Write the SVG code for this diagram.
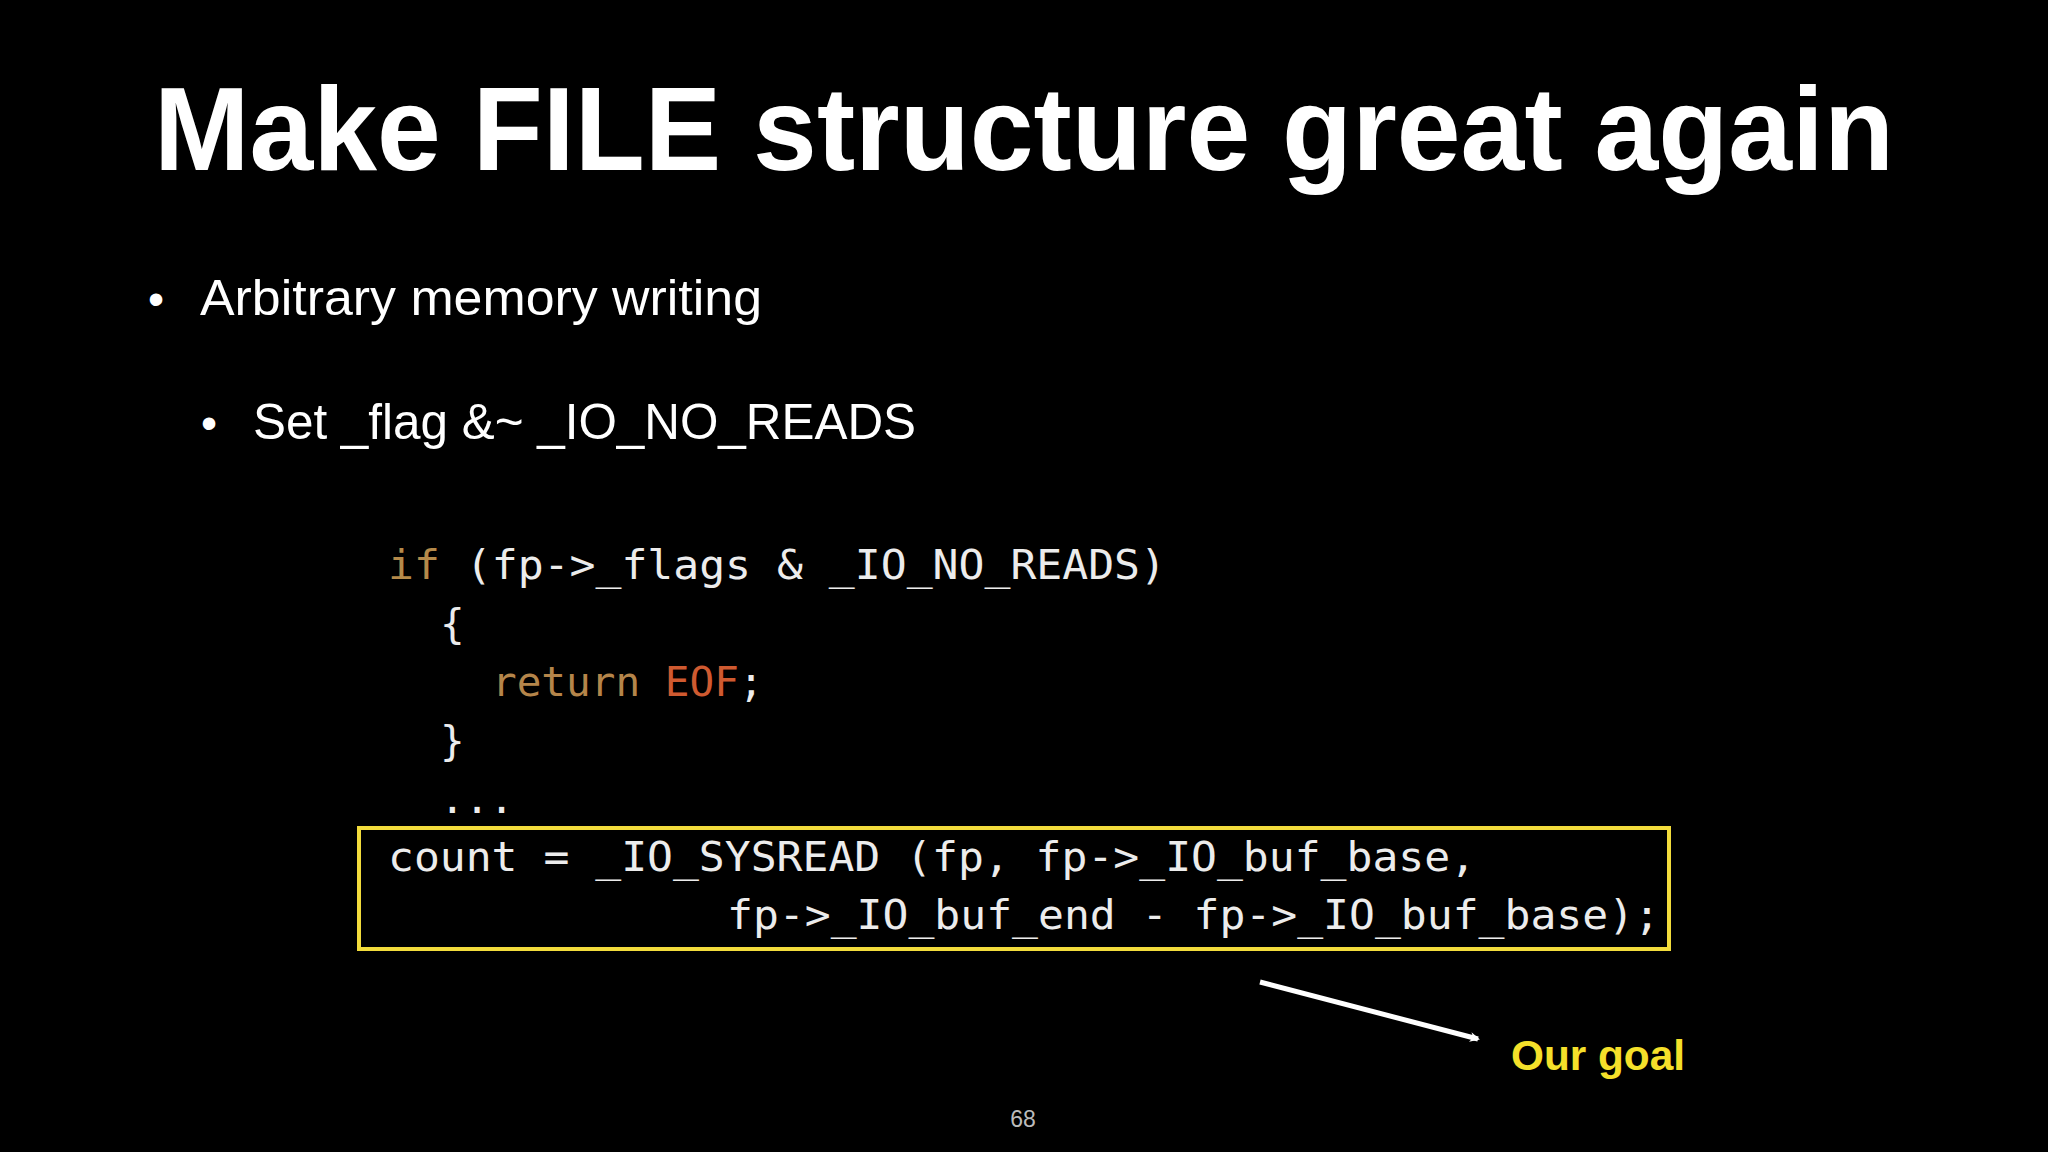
<svg xmlns="http://www.w3.org/2000/svg" width="2048" height="1152" viewBox="0 0 2048 1152">
<defs>
<style>
.t{font-family:"Liberation Sans",Arial,sans-serif;fill:#fff}
.c{font-family:"DejaVu Sans Mono","Liberation Mono",monospace;font-size:41px;fill:#ececec}
</style>
<marker id="ah" markerWidth="10" markerHeight="10" refX="8" refY="5" orient="auto" markerUnits="userSpaceOnUse" viewBox="0 0 10 10"><path d="M0,0 L10,5 L0,10 L3,5 Z" fill="#fff"/></marker>
</defs>
<rect width="2048" height="1152" fill="#000"/>
<g id="title"><text class="t" x="154" y="170" font-size="118" font-weight="bold" textLength="1740" lengthAdjust="spacingAndGlyphs">Make FILE structure great again</text></g>
<g id="bullets">
<text class="t" x="148" y="315" font-size="46">•</text>
<text class="t" x="200" y="315" font-size="50" textLength="562" lengthAdjust="spacingAndGlyphs">Arbitrary memory writing</text>
<text class="t" x="201" y="439" font-size="46">•</text>
<text class="t" x="253" y="439" font-size="50" textLength="663" lengthAdjust="spacingAndGlyphs">Set _flag &amp;~ _IO_NO_READS</text>
</g>
<g id="code">
<text class="c" x="388" y="579" textLength="778" lengthAdjust="spacingAndGlyphs"><tspan fill="#b58a4a">if</tspan> (fp-&gt;_flags &amp; _IO_NO_READS)</text>
<text class="c" x="440" y="638">{</text>
<text class="c" x="492" y="696"><tspan fill="#b5854a">return</tspan> <tspan fill="#cf5a30">EOF</tspan>;</text>
<text class="c" x="440" y="755">}</text>
<text class="c" x="440" y="813">...</text>
<text class="c" x="388" y="871" textLength="1088" lengthAdjust="spacingAndGlyphs">count = _IO_SYSREAD (fp, fp-&gt;_IO_buf_base,</text>
<text class="c" x="727" y="929" textLength="933" lengthAdjust="spacingAndGlyphs">fp-&gt;_IO_buf_end - fp-&gt;_IO_buf_base);</text>
</g>
<g id="highlight"><rect x="359" y="828" width="1310" height="121" fill="none" stroke="#f2dc3c" stroke-width="4"/></g>
<g id="connectors"><line x1="1260" y1="982" x2="1478" y2="1039" stroke="#fff" stroke-width="5" marker-end="url(#ah)"/></g>
<g id="goal"><text x="1511" y="1070" font-family="Liberation Sans,Arial,sans-serif" font-weight="bold" font-size="42" fill="#f5e02a" textLength="174" lengthAdjust="spacingAndGlyphs">Our goal</text></g>
<g id="page"><text x="1023" y="1127" text-anchor="middle" font-family="Liberation Sans,Arial,sans-serif" font-size="23" fill="#bbb">68</text></g>
</svg>
